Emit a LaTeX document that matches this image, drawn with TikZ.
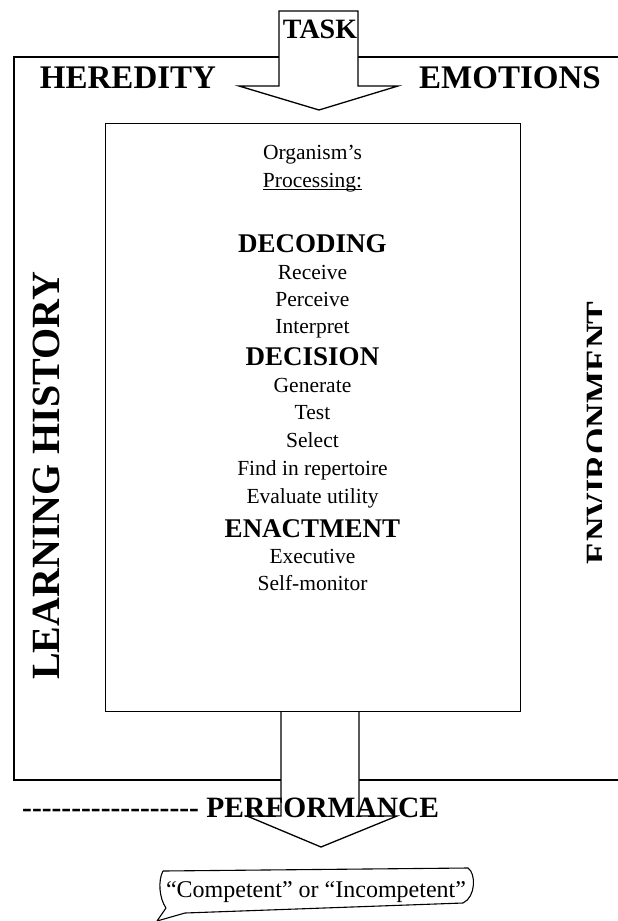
\documentclass[tikz,border=0pt]{standalone}
\usepackage{fontspec}
\setmainfont{Liberation Serif}
\newcommand{\hy}{-\kern0pt}
\begin{document}
\begin{tikzpicture}[x=1pt,y=-1pt,
  frame/.style={line width=1.3pt, line join=miter},
  lbl/.style={inner sep=0pt, anchor=base},
  bighead/.style={lbl, font=\bfseries\fontsize{33}{33}\selectfont},
  proctext/.style={lbl, font=\fontsize{21.5}{24}\selectfont},
  phase/.style={lbl, font=\bfseries\fontsize{27}{30}\selectfont},
]
\useasboundingbox (0,0) rectangle (618,921);
\fill[white] (0,0) rectangle (618,921);

% outer frame (right side runs off the page)
\draw[frame] (618,57) -- (14,57) -- (14,780) -- (618,780);

% top block arrow (TASK)
\draw[frame, fill=white] (279,11) -- (358,11) -- (358,86) -- (398,86) -- (319,110)
  -- (239,86) -- (279,86) -- cycle;

% bottom block arrow (PERFORMANCE)
\draw[frame, fill=white] (281,711) -- (281,816) -- (247,816) -- (321,847) -- (397,816)
  -- (359,816) -- (359,711);

% inner processing box
\node[draw, frame, fill=none, minimum width=415pt, minimum height=588pt, inner sep=0pt,
  anchor=north west] (inner) at (105,123) {};

% labels around
\node[lbl, font=\bfseries\fontsize{28}{28}\selectfont] (task) at (320,38) {TASK};
\node[bighead] (hered) at (128,88) {HEREDITY};
\node[bighead] (emo) at (510,88) {EMOTIONS};
\node[lbl, rotate=90, font=\bfseries\fontsize{40}{40}\selectfont] (learn) at (59,476) {LEARNING HISTORY};
\begin{scope}
  \clip (560,0) rectangle (601,921);
  \node[lbl, rotate=90, font=\bfseries\fontsize{34}{34}\selectfont] (env) at (609,433) {ENVIRONMENT};
\end{scope}

% inner texts
\node[proctext] (org) at (312.5,159) {Organism’s};
\node[proctext] (proc) at (312.5,187) {Processing:};
\draw[line width=0.9pt] ([yshift=-2.5pt]proc.base west) -- ([yshift=-2.5pt]proc.base east);
\node[phase] (decoding) at (312.5,252) {DECODING};
\node[proctext] (receive) at (312.5,279) {Receive};
\node[proctext] (perceive) at (312.5,306) {Perceive};
\node[proctext] (interpret) at (312.5,333) {Interpret};
\node[phase] (decision) at (312.5,365) {DECISION};
\node[proctext] (generate) at (312.5,392) {Generate};
\node[proctext] (test) at (312.5,419) {Test};
\node[proctext] (select) at (312.5,447) {Select};
\node[proctext] (find) at (312.5,475) {Find in repertoire};
\node[proctext] (evaluate) at (312.5,503) {Evaluate utility};
\node[phase] (enactment) at (312.5,537) {ENACTMENT};
\node[proctext] (executive) at (312.5,563) {Executive};
\node[proctext] (selfmon) at (312.5,590) {Self-monitor};

% performance line
\node[lbl, anchor=base west, font=\bfseries\fontsize{29.5}{30}\selectfont] (perf) at (22,817)
  {\hy\hy\hy\hy\hy\hy\hy\hy\hy\hy\hy\hy\hy\hy\hy\hy\hy\hy{} PERFORMANCE};

% callout
\draw[line width=1.1pt, line join=round] (163,871) -- (468,868)
  .. controls (476,873) and (476,897) .. (463,903)
  -- (185,913) -- (157,921) -- (166,908)
  .. controls (159,898) and (158,880) .. (163,871);
\node[lbl, font=\fontsize{24}{24}\selectfont] (verdict) at (316,897) {“Competent” or “Incompetent”};
\end{tikzpicture}
\end{document}
